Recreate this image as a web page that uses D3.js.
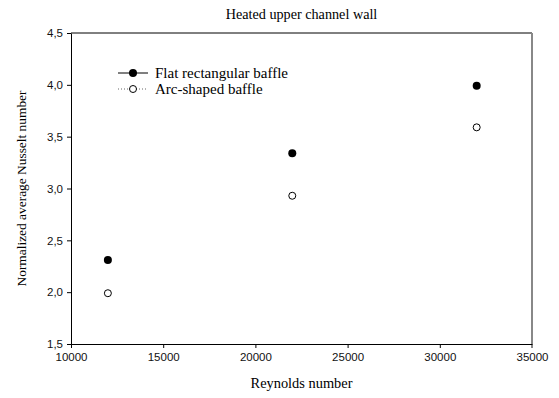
<!DOCTYPE html>
<html>
<head>
<meta charset="utf-8">
<script src="https://cdn.jsdelivr.net/npm/d3@7"></script>
<style>
  html, body { margin: 0; padding: 0; background: #fff; }
  svg { display: block; }
</style>
</head>
<body>
<svg id="chart" width="559" height="398"></svg>
<script>
// Reynolds numbers tested
const reynolds = [12000, 22000, 32000];
// Normalized average Nusselt number for each baffle type
const flatBaffle = [2.31, 3.34, 3.99];
const arcBaffle = [1.99, 2.93, 3.59];
// Axis ticks
const xTicks = [10000, 15000, 20000, 25000, 30000, 35000];
const yTicks = [1.5, 2.0, 2.5, 3.0, 3.5, 4.0, 4.5];
const seriesNames = ["Flat rectangular baffle", "Arc-shaped baffle"];

const svg = d3.select("#chart");
const margin = { left: 71, right: 27, top: 33, bottom: 54 };
const W = 559, H = 398;

const x = d3.scaleLinear().domain([10000, 35000]).range([margin.left, W - margin.right]);
const y = d3.scaleLinear().domain([1.5, 4.5]).range([H - margin.bottom, margin.top]);

const fmtY = d => d3.format(".1f")(d).replace(".", ",");
const serif = "Liberation Serif, Times New Roman, serif";

// Frame: top and right edges
svg.append("line")
  .attr("x1", x(10000)).attr("x2", x(35000))
  .attr("y1", y(4.5)).attr("y2", y(4.5))
  .attr("stroke", "#000").attr("stroke-width", 1);
svg.append("line")
  .attr("x1", x(35000)).attr("x2", x(35000))
  .attr("y1", y(4.5)).attr("y2", y(1.5) + 4)
  .attr("stroke", "#888").attr("stroke-width", 2);

// Axes
const xAxis = svg.append("g")
  .attr("transform", `translate(0,${y(1.5)})`)
  .call(d3.axisBottom(x).tickValues(xTicks).tickFormat(d3.format("d")).tickSizeInner(4).tickSizeOuter(0).tickPadding(5));
const yAxis = svg.append("g")
  .attr("transform", `translate(${x(10000)},0)`)
  .call(d3.axisLeft(y).tickValues(yTicks).tickFormat(fmtY).tickSizeInner(4).tickSizeOuter(0).tickPadding(4));

[xAxis, yAxis].forEach(g => {
  g.select(".domain").attr("stroke", "#000").attr("stroke-width", 1);
  g.selectAll(".tick line").attr("stroke", "#000");
  g.selectAll(".tick text")
    .attr("font-family", "Liberation Sans, Arial, sans-serif")
    .attr("font-size", 11.5)
    .attr("fill", "#111");
});
xAxis.selectAll(".tick").filter(d => d === 35000).select("line").remove();

// Titles
svg.append("text")
  .attr("x", (x(10000) + x(35000)) / 2).attr("y", 19)
  .attr("text-anchor", "middle")
  .attr("font-family", serif)
  .attr("font-size", 14.2)
  .text("Heated upper channel wall");

svg.append("text")
  .attr("x", (x(10000) + x(35000)) / 2).attr("y", 388)
  .attr("text-anchor", "middle")
  .attr("font-family", serif)
  .attr("font-size", 14.4)
  .text("Reynolds number");

svg.append("text")
  .attr("transform", `translate(26,${(y(1.5) + y(4.5)) / 2}) rotate(-90)`)
  .attr("text-anchor", "middle")
  .attr("font-family", serif)
  .attr("font-size", 13.4)
  .text("Normalized average Nusselt number");

// Data points
const r = 4;
svg.append("g").selectAll("circle")
  .data(reynolds.map((re, i) => ({ re, v: flatBaffle[i] })))
  .join("circle")
  .attr("cx", d => x(d.re)).attr("cy", d => y(d.v)).attr("r", r)
  .attr("fill", "#000");

svg.append("g").selectAll("circle")
  .data(reynolds.map((re, i) => ({ re, v: arcBaffle[i] })))
  .join("circle")
  .attr("cx", d => x(d.re)).attr("cy", d => y(d.v)).attr("r", r - 0.5)
  .attr("fill", "#fff").attr("stroke", "#000").attr("stroke-width", 1);

// Legend
const legend = svg.append("g").attr("transform", "translate(118,73)");
const rowH = 16;
seriesNames.forEach((name, i) => {
  const g = legend.append("g").attr("transform", `translate(0,${i * rowH})`);
  g.append("line")
    .attr("x1", 0).attr("x2", 30).attr("y1", 0).attr("y2", 0)
    .attr("stroke", i === 0 ? "#000" : "#666")
    .attr("stroke-width", 1)
    .attr("stroke-dasharray", i === 0 ? null : "1,2");
  g.append("circle")
    .attr("cx", 15).attr("cy", 0).attr("r", i === 0 ? r : r - 0.5)
    .attr("fill", i === 0 ? "#000" : "#fff")
    .attr("stroke", "#000").attr("stroke-width", i === 0 ? 0 : 1);
  g.append("text")
    .attr("x", 37).attr("y", 5)
    .attr("font-family", serif)
    .attr("font-size", 15)
    .text(name);
});
</script>
</body>
</html>
